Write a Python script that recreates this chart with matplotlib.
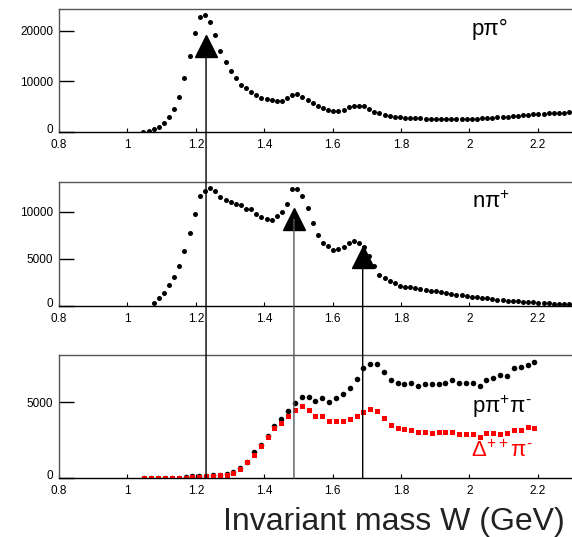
import matplotlib
matplotlib.use("Agg")
import matplotlib.pyplot as plt
from matplotlib.patches import ConnectionPatch
from matplotlib.transforms import ScaledTranslation

plt.rcParams['font.family'] = ['Liberation Sans', 'DejaVu Sans']
plt.rcParams['mathtext.fontset'] = 'custom'
plt.rcParams['mathtext.rm'] = 'Liberation Sans'

# ---- data: p pi0 (top panel) ----
W_ppi0 = [1.047, 1.062, 1.077, 1.092, 1.107, 1.122, 1.137, 1.152, 1.167, 1.182,
          1.197, 1.212, 1.227, 1.242, 1.257, 1.272, 1.287, 1.302, 1.317, 1.332,
          1.347, 1.362, 1.377, 1.392, 1.407, 1.422, 1.437, 1.452, 1.467, 1.482,
          1.497, 1.512, 1.527, 1.542, 1.557, 1.572, 1.587, 1.602, 1.617, 1.632,
          1.647, 1.662, 1.677, 1.692, 1.707, 1.722, 1.737, 1.752, 1.767, 1.782,
          1.797, 1.812, 1.827, 1.842, 1.857, 1.872, 1.887, 1.902, 1.917, 1.932,
          1.947, 1.962, 1.977, 1.992, 2.007, 2.022, 2.037, 2.052, 2.067, 2.082,
          2.097, 2.112, 2.127, 2.142, 2.157, 2.172, 2.187, 2.202, 2.217, 2.232,
          2.247, 2.262, 2.277, 2.292]
Y_ppi0 = [0, 200, 530, 990, 1780, 2970, 4620, 7000, 10700, 15000,
          19600, 22700, 23200, 21850, 19100, 16100, 13900, 12150, 10700, 9370,
          8650, 7980, 7330, 6670, 6600, 6400, 6070, 6200, 6670, 7330,
          7460, 6900, 6300, 5650, 5050, 4700, 4400, 4150, 4100, 4450,
          4900, 5100, 5200, 5100, 4600, 4050, 3700, 3450, 3250, 3050,
          2900, 2780, 2720, 2700, 2680, 2660, 2650, 2640, 2630, 2620,
          2620, 2610, 2600, 2600, 2620, 2640, 2700, 2760, 2820, 2880,
          2950, 3050, 3150, 3250, 3330, 3400, 3480, 3560, 3640, 3700,
          3760, 3800, 3850, 3900]

# ---- data: n pi+ (middle panel) ----
W_npip = W_ppi0[2:]
Y_npip = [320, 850, 1320, 2170, 3090, 4220, 5790, 7700, 9750, 11670,
          12240, 12490, 12200, 11600, 11240, 11000, 10820, 10700, 10290, 10290,
          9750, 9470, 9220, 9120, 9540, 9930, 10820, 12410, 12410, 11650,
          10400, 8800, 7550, 6720, 6300, 5950, 6080, 6200, 6680, 6900,
          6700, 6210, 5300, 4200, 3300, 2920, 2640, 2400, 2150, 2030,
          1950, 1870, 1780, 1680, 1600, 1520, 1430, 1330, 1250, 1180,
          1100, 1030, 970, 900, 840, 790, 720, 650, 590, 540,
          500, 460, 420, 390, 360, 320, 290, 260, 230, 210,
          190, 180]

# ---- data: p pi+ pi- and Delta++ pi- (bottom panel) ----
W_2pi = [1.05, 1.07, 1.09, 1.11, 1.13, 1.15, 1.17, 1.19, 1.21, 1.23,
         1.25, 1.27, 1.29, 1.31, 1.33, 1.35, 1.37, 1.39, 1.41, 1.43,
         1.45, 1.47, 1.49, 1.51, 1.53, 1.55, 1.57, 1.59, 1.61, 1.63,
         1.65, 1.67, 1.69, 1.71, 1.73, 1.75, 1.77, 1.79, 1.81, 1.83,
         1.85, 1.87, 1.89, 1.91, 1.93, 1.95, 1.97, 1.99, 2.01, 2.03,
         2.05, 2.07, 2.09, 2.11, 2.13, 2.15, 2.17, 2.19]
Y_ppipi = [0, 0, 0, 10, 30, 50, 60, 120, 150, 180,
           210, 240, 280, 400, 660, 1080, 1700, 2200, 2750, 3440,
           3870, 4420, 4920, 5330, 5330, 5110, 5260, 5040, 5300, 5530,
           5960, 6530, 7240, 7520, 7520, 6970, 6470, 6250, 6180, 6250,
           6090, 6180, 6180, 6220, 6250, 6470, 6250, 6300, 6250, 6090,
           6470, 6620, 6800, 6760, 7240, 7340, 7450, 7670]
Y_delpi = [0, 0, 0, 10, 30, 50, 50, 90, 110, 140,
           160, 200, 220, 380, 640, 1040, 1540, 2150, 2700, 3300,
           3650, 4100, 4480, 4760, 4490, 4120, 4120, 3770, 3770, 3770,
           3880, 4120, 4380, 4540, 4430, 3950, 3510, 3330, 3240, 3180,
           3070, 3040, 2960, 3070, 3070, 3070, 2910, 2890, 2890, 2740,
           2960, 2960, 2890, 2960, 3180, 3180, 3400, 3330]

# resonance markers (W, height of triangle)
res_W = [1.230, 1.487, 1.688]
res_top = [17030, 9190, 5160]

xticks = [0.8, 1.0, 1.2, 1.4, 1.6, 1.8, 2.0, 2.2]
xticklabels = ['0.8', '1', '1.2', '1.4', '1.6', '1.8', '2', '2.2']

fig = plt.figure(figsize=(5.72, 5.37), dpi=100)
ax1 = fig.add_axes([0.1031, 0.7542, 0.8969, 0.2291])
ax2 = fig.add_axes([0.1031, 0.4307, 0.8969, 0.2304])
ax3 = fig.add_axes([0.1031, 0.1093, 0.8969, 0.2302])

def style(ax, ymax, yticks):
    ax.set_xlim(0.8, 2.3)
    ax.set_ylim(0, ymax)
    ax.set_xticks(xticks)
    ax.set_xticklabels(xticklabels)
    ax.set_yticks(yticks)
    ax.set_yticklabels([str(t) for t in yticks])
    ax.spines['right'].set_visible(False)
    for s in ['left', 'top']:
        ax.spines[s].set_color('#555555')
        ax.spines[s].set_linewidth(1.0)
    ax.spines['bottom'].set_color('black')
    ax.spines['bottom'].set_linewidth(1.0)
    ax.tick_params(axis='y', direction='in', length=11, width=1, labelsize=8.5, pad=4)
    ax.tick_params(axis='x', direction='in', length=3, width=0.8, labelsize=8.5, pad=5)
    # nudge the "0" y label up slightly so it clears the "0.8" x label
    lab = ax.get_yticklabels()[0]
    lab.set_transform(lab.get_transform() + ScaledTranslation(0, 2.5 / 72, fig.dpi_scale_trans))

style(ax1, 24350, [0, 10000, 20000])
style(ax2, 13160, [0, 5000, 10000])
style(ax3, 8130, [0, 5000])

ms = 3.6
ax1.plot(W_ppi0, Y_ppi0, 'o', color='black', ms=ms, mew=0)
ax2.plot(W_npip, Y_npip, 'o', color='black', ms=ms, mew=0)
ax3.plot(W_2pi, Y_ppipi, 'o', color='black', ms=ms + 0.4, mew=0)
ax3.plot(W_2pi, Y_delpi, 's', color='#ff0000', ms=ms, mew=0)

# triangles
ax1.plot([res_W[0]], [res_top[0]], '^', color='black', ms=16, zorder=5)
ax2.plot(res_W[1:], res_top[1:], '^', color='black', ms=16, zorder=5)

# vertical lines from triangles down to bottom axis
line_axes = [ax1, ax2, ax2]
line_cols = ['black', '#555555', 'black']
for w, top, a, c in zip(res_W, res_top, line_axes, line_cols):
    cp = ConnectionPatch(xyA=(w, top), coordsA='data', axesA=a,
                         xyB=(w, 0), coordsB='data', axesB=ax3,
                         color=c, lw=1.0, zorder=4)
    fig.add_artist(cp)

# labels
ax1.text(0.805, 0.83, 'pπ°', transform=ax1.transAxes, fontsize=16,
         ha='left', va='center', color='black')
ax2.text(0.805, 0.84, r'$\mathrm{nπ^{+}}$', transform=ax2.transAxes, fontsize=16,
         ha='left', va='center', color='black')
ax3.text(0.805, 0.577, '$\\mathrm{pπ^{+}π^{\u2010}}$', transform=ax3.transAxes, fontsize=16,
         ha='left', va='center', color='black')
ax3.text(0.803, 0.22, '$\\mathrm{Δ^{++}π^{\u2010}}$', transform=ax3.transAxes, fontsize=16,
         ha='left', va='center', color='#ff0000')

fig.text(0.988, 0.028, 'Invariant mass W (GeV)', ha='right', va='center',
         fontsize=23, color='#222222')

fig.savefig('out.png', dpi=100)
